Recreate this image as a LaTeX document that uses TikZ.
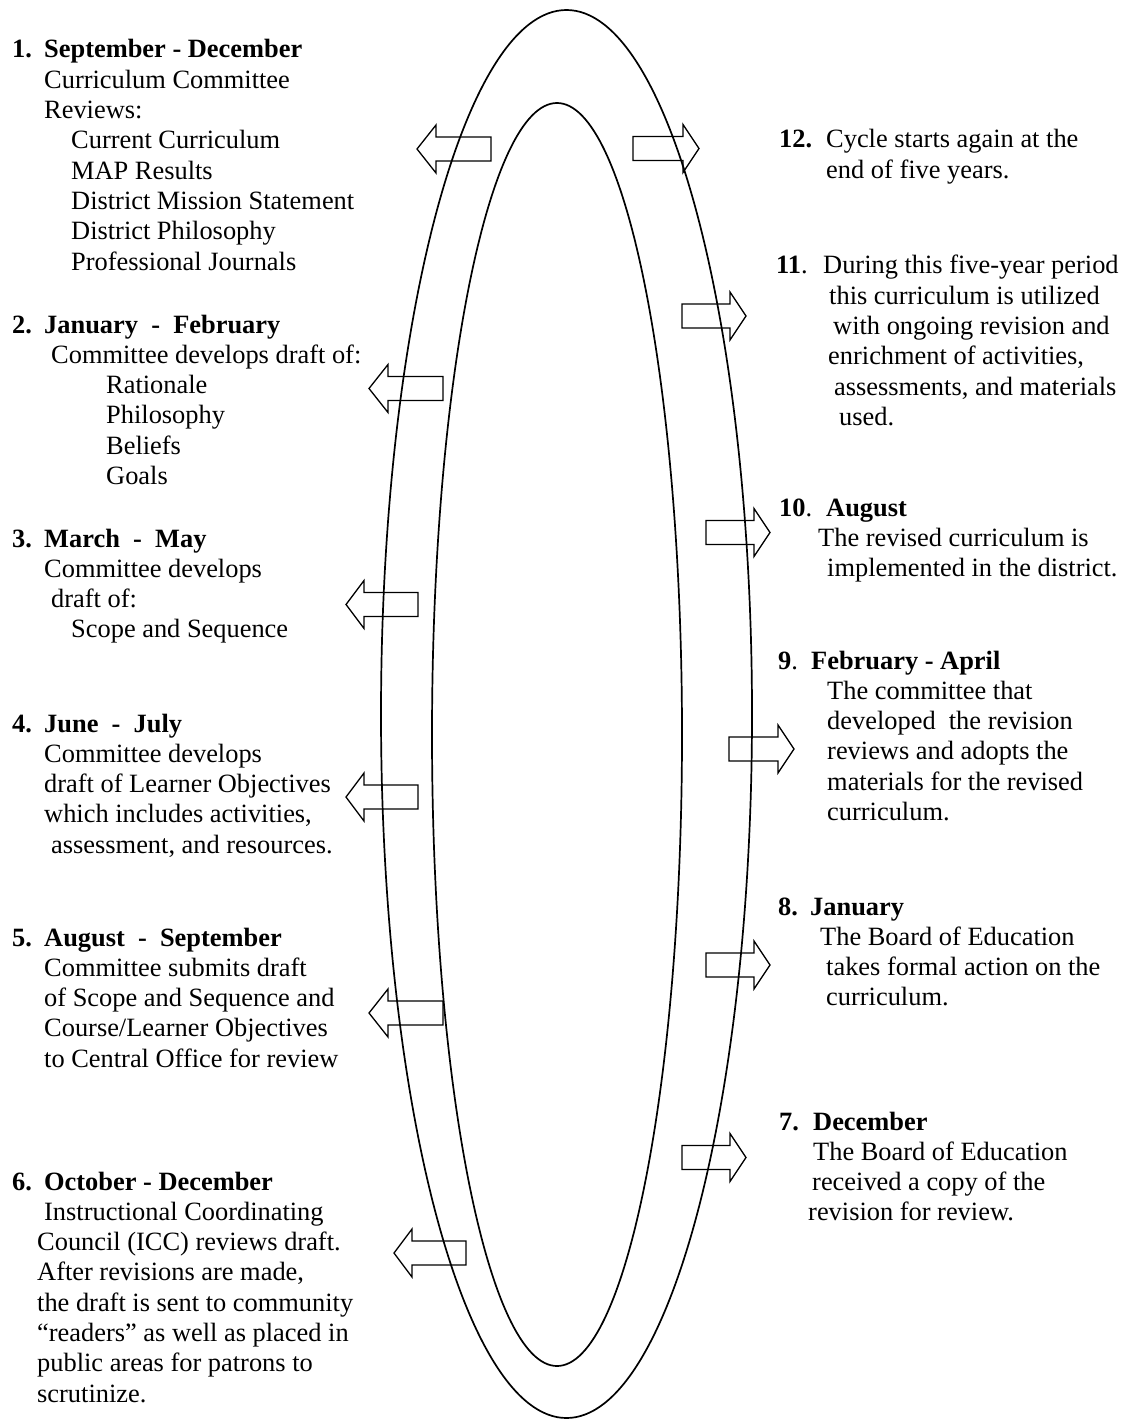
\documentclass[tikz,border=0pt]{standalone}
\usepackage{fontspec}
\setmainfont{Liberation Serif}
\usetikzlibrary{shapes.geometric}
\tikzset{
  ring/.style={draw, line width=1.7pt, ellipse, inner sep=0pt},
  blockarrow/.style={draw, line width=1.3pt, line join=miter},
  txt/.style={inner sep=0pt, anchor=base west, font=\fontsize{26.4}{30.3}\selectfont},
}
\newcommand{\barrow}[4]{% tip x, y, head base x, tail x
  \draw[blockarrow] (#1,#2) -- (#3,#2-24) -- (#3,#2-12) -- (#4,#2-12) -- (#4,#2+12) -- (#3,#2+12) -- (#3,#2+24) -- cycle;}
\newcommand{\ind}[1]{\hspace*{#1pt}}
\begin{document}
\begin{tikzpicture}[x=1pt,y=-1pt]
\useasboundingbox (0,0) rectangle (1124,1420);
% arrows
\barrow{417}{149}{436}{491}
\barrow{369}{388.5}{388}{443}
\barrow{346}{604.5}{364}{418}
\barrow{346}{797}{364}{418}
\barrow{369}{1013}{388}{443}
\barrow{394}{1253}{412}{466}
\barrow{699}{148.5}{683}{633}
\barrow{746}{316}{730}{682}
\barrow{770}{532.5}{754}{706}
\barrow{794}{749}{778}{729}
\barrow{770}{965}{754}{706}
\barrow{746}{1157.5}{730}{682}
% ellipses
\node[ring, minimum width=371pt, minimum height=1408pt] (outer) at (566.5,714) {};
\node[ring, minimum width=250pt, minimum height=1263pt] (inner) at (557,734.5) {};
% left texts
\node[txt] (s1) at (12,58) {\begin{tabular}[t]{@{}l@{}}
\makebox[32pt][l]{\textbf{1.}}\textbf{September - December}\\
\ind{32}Curriculum Committee\\
\ind{32}Reviews:\\
\ind{59}Current Curriculum\\
\ind{59}MAP Results\\
\ind{59}District Mission Statement\\
\ind{59}District Philosophy\\
\ind{59}Professional Journals
\end{tabular}};
\node[txt] (s2) at (12,333) {\begin{tabular}[t]{@{}l@{}}
\makebox[32pt][l]{\textbf{2.}}\textbf{January\ \ -\ \ February}\\
\ind{39}Committee develops draft of:\\
\ind{94}Rationale\\
\ind{94}Philosophy\\
\ind{94}Beliefs\\
\ind{94}Goals
\end{tabular}};
\node[txt] (s3) at (12,547) {\begin{tabular}[t]{@{}l@{}}
\makebox[32pt][l]{\textbf{3.}}\textbf{March\ \ -\ \ May}\\
\ind{32}Committee develops\\
\ind{39}draft of:\\
\ind{59}Scope and Sequence
\end{tabular}};
\node[txt] (s4) at (12,732) {\begin{tabular}[t]{@{}l@{}}
\makebox[32pt][l]{\textbf{4.}}\textbf{June\ \ -\ \ July}\\
\ind{32}Committee develops\\
\ind{32}draft of Learner Objectives\\
\ind{32}which includes activities,\\
\ind{39}assessment, and resources.
\end{tabular}};
\node[txt] (s5) at (12,946) {\begin{tabular}[t]{@{}l@{}}
\makebox[32pt][l]{\textbf{5.}}\textbf{August\ \ -\ \ September}\\
\ind{32}Committee submits draft\\
\ind{32}of Scope and Sequence and\\
\ind{32}Course/Learner Objectives\\
\ind{32}to Central Office for review
\end{tabular}};
\node[txt] (s6) at (12,1190) {\begin{tabular}[t]{@{}l@{}}
\makebox[32pt][l]{\textbf{6.}}\textbf{October - December}\\
\ind{32}Instructional Coordinating\\
\ind{25}Council (ICC) reviews draft.\\
\ind{25}After revisions are made,\\
\ind{25}the draft is sent to community\\
\ind{25}“readers” as well as placed in\\
\ind{25}public areas for patrons to\\
\ind{25}scrutinize.
\end{tabular}};
% right texts
\node[txt] (s12) at (779,148) {\begin{tabular}[t]{@{}l@{}}
\makebox[47pt][l]{\textbf{12.}}Cycle starts again at the\\
\ind{47}end of five years.
\end{tabular}};
\node[txt] (s11) at (776,274) {\begin{tabular}[t]{@{}l@{}}
\makebox[47pt][l]{\textbf{11}.}During this five-year period\\
\ind{53}this curriculum is utilized\\
\ind{57}with ongoing revision and\\
\ind{52}enrichment of activities,\\
\ind{58}assessments, and materials\\
\ind{63}used.
\end{tabular}};
\node[txt] (s10) at (779,516) {\begin{tabular}[t]{@{}l@{}}
\makebox[47pt][l]{\textbf{10}.}\textbf{August}\\
\ind{39}The revised curriculum is\\
\ind{48}implemented in the district.
\end{tabular}};
\node[txt] (s9) at (778,669) {\begin{tabular}[t]{@{}l@{}}
\makebox[33pt][l]{\textbf{9}.}\textbf{February - April}\\
\ind{49}The committee that\\
\ind{49}developed\ \ the revision\\
\ind{49}reviews and adopts the\\
\ind{49}materials for the revised\\
\ind{49}curriculum.
\end{tabular}};
\node[txt] (s8) at (778,915) {\begin{tabular}[t]{@{}l@{}}
\makebox[32pt][l]{\textbf{8.}}\textbf{January}\\
\ind{42}The Board of Education\\
\ind{48}takes formal action on the\\
\ind{48}curriculum.
\end{tabular}};
\node[txt] (s7) at (779,1130) {\begin{tabular}[t]{@{}l@{}}
\makebox[34pt][l]{\textbf{7.}}\textbf{December}\\
\ind{34}The Board of Education\\
\ind{33}received a copy of the\\
\ind{29}revision for review.
\end{tabular}};
\end{tikzpicture}
\end{document}
